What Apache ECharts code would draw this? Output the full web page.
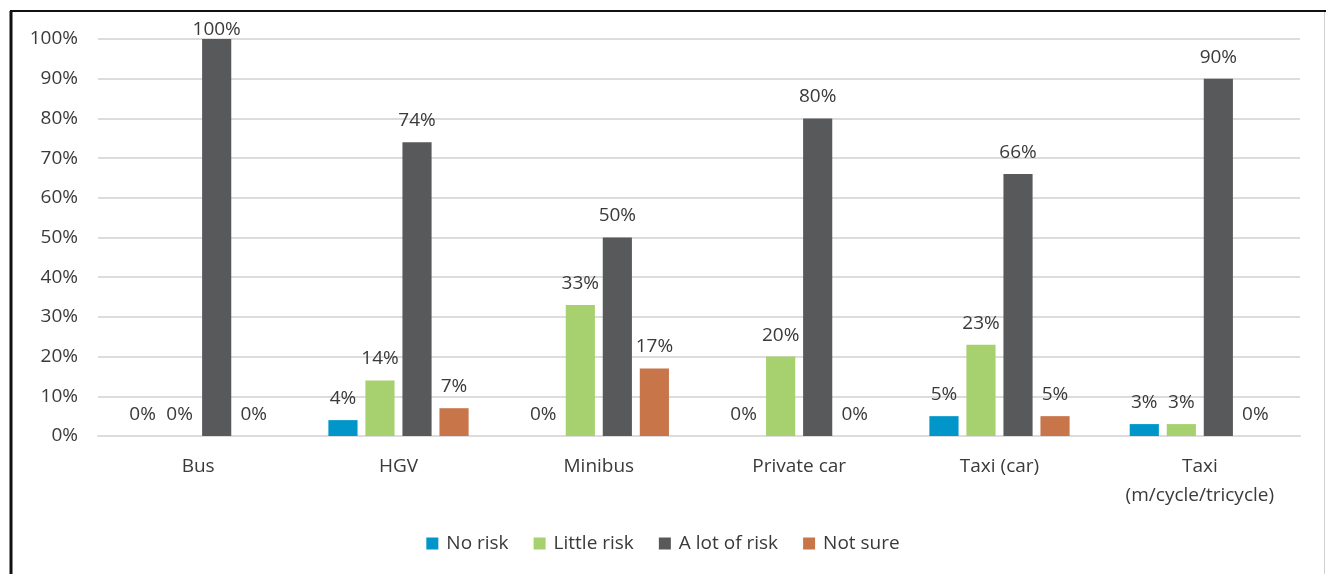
<!DOCTYPE html>
<html>
<head>
<meta charset="utf-8">
<style>
  html, body { margin: 0; padding: 0; background: #fff; }
  #chart { width: 1326px; height: 574px; }
</style>
<script src="https://cdn.jsdelivr.net/npm/echarts@6/dist/echarts.min.js"></script>
</head>
<body>
<div id="chart"></div>
<script>
// Vehicle types along the x axis
const categories = ['Bus', 'HGV', 'Minibus', 'Private car', 'Taxi (car)', 'Taxi\n(m/cycle/tricycle)'];

// Share of respondents per risk rating (%)
const noRisk     = [0, 4, 0, 0, 5, 3];
const littleRisk = [0, 14, 33, 20, 23, 3];
const aLotOfRisk = [100, 74, 50, 80, 66, 90];
const notSure    = [0, 7, 17, 0, 5, 0];

const seriesNames = ['No risk', 'Little risk', 'A lot of risk', 'Not sure'];
const seriesColors = ['#0096C9', '#A7D06F', '#58595B', '#C77549'];
const seriesData = [noRisk, littleRisk, aLotOfRisk, notSure];

const FONT = '"Open Sans", "Noto Sans", sans-serif';
const TEXT = '#3a3a3a';
const FS = 19;
const Y_MAX = 100;

const chart = echarts.init(document.getElementById('chart'), null, { renderer: 'canvas' });

chart.setOption({
  animation: false,
  backgroundColor: '#ffffff',
  textStyle: { fontFamily: FONT },
  grid: { left: 98, right: 26, top: 39, bottom: 138, containLabel: false },
  legend: {
    bottom: 16,
    left: 'center',
    itemWidth: 12,
    itemHeight: 12,
    itemGap: 25,
    icon: 'rect',
    textStyle: { fontFamily: FONT, fontSize: FS, color: TEXT, padding: [0, 0, 0, 3] },
    data: seriesNames
  },
  xAxis: {
    type: 'category',
    data: categories,
    axisLine: { show: true, lineStyle: { color: '#DCDCDC', width: 2 } },
    axisTick: { show: false },
    axisLabel: {
      fontFamily: FONT, fontSize: FS, color: TEXT,
      margin: 16, lineHeight: 29, interval: 0
    }
  },
  yAxis: {
    type: 'value',
    min: 0, max: Y_MAX, interval: 10,
    axisLine: { show: false },
    axisTick: { show: false },
    axisLabel: {
      fontFamily: FONT, fontSize: FS, color: TEXT, margin: 20,
      formatter: '{value}%'
    },
    splitLine: { lineStyle: { color: '#DCDCDC', width: 2 } }
  },
  series: seriesData.map((d, i) => ({
    name: seriesNames[i],
    type: 'bar',
    // labels of full-height bars sit tight against the bar so they stay inside the plot
    data: d.map(v => v >= Y_MAX ? { value: v, label: { distance: 0 } } : v),
    barGap: '27%',
    barCategoryGap: '30%',
    itemStyle: { color: seriesColors[i] },
    label: {
      show: true,
      position: 'top',
      distance: 12,
      formatter: '{c}%',
      fontFamily: FONT, fontSize: FS, color: TEXT
    }
  })),
  graphic: [
    { type: 'line', silent: true, shape: { x1: 11, y1: 11, x2: 11, y2: 574 }, style: { stroke: '#111', lineWidth: 3 } },
    { type: 'line', silent: true, shape: { x1: 10, y1: 11, x2: 1326, y2: 11 }, style: { stroke: '#111', lineWidth: 2 } },
    { type: 'line', silent: true, shape: { x1: 1324.5, y1: 12, x2: 1324.5, y2: 574 }, style: { stroke: '#D0D0D0', lineWidth: 1 } }
  ]
});
</script>
</body>
</html>
